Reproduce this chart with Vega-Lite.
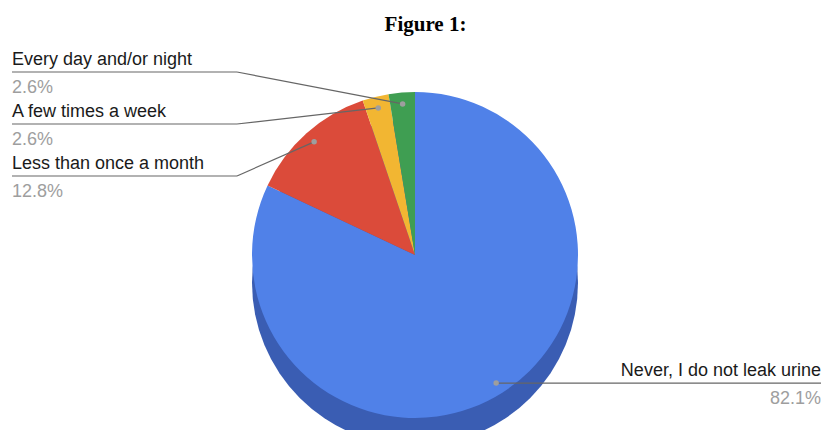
{
  "$schema": "https://vega.github.io/schema/vega-lite/v6.json",
  "width": 823,
  "height": 430,
  "padding": 0,
  "autosize": {"type": "none"},
  "background": "white",
  "config": {"view": {"stroke": null}},
  "title": {
    "text": "Figure 1:",
    "font": "Liberation Serif",
    "fontSize": 21,
    "fontWeight": "bold",
    "color": "#000000",
    "anchor": "middle",
    "dx": 14,
    "offset": -52,
    "baseline": "alphabetic"
  },
  "data": {
    "values": [
      {"answer": "Never, I do not leak urine", "pct": 82.1, "ord": 1},
      {"answer": "Less than once a month", "pct": 12.8, "ord": 2},
      {"answer": "A few times a week", "pct": 2.6, "ord": 3},
      {"answer": "Every day and/or night", "pct": 2.6, "ord": 4}
    ]
  },
  "transform": [
    {"joinaggregate": [{"op": "sum", "field": "pct", "as": "total"}]},
    {"window": [{"op": "sum", "field": "pct", "as": "cum"}], "sort": [{"field": "ord"}], "frame": [null, 0]},
    {"calculate": "2 * PI * (datum.cum - datum.pct / 2) / datum.total", "as": "mid"},
    {"calculate": "0.93 * sin(datum.mid)", "as": "dotx"},
    {"calculate": "0.93 * cos(datum.mid)", "as": "doty"},
    {"calculate": "datum.ord == 1 ? 1 : -1", "as": "side"},
    {"calculate": "datum.side > 0 ? datum.doty : 1.1227 - (4 - datum.ord) * 0.319", "as": "ly"},
    {"calculate": "datum.side > 0 ? datum.dotx : -1.092", "as": "ex"},
    {"calculate": "datum.side > 0 ? 2.4908 : -2.4724", "as": "endx"}
  ],
  "encoding": {
    "x": {"field": "px", "type": "quantitative", "scale": {"domain": [-2.546, 2.5031], "zero": false, "nice": false}, "axis": null},
    "y": {"field": "py", "type": "quantitative", "scale": {"domain": [-1.0736, 1.5644], "zero": false, "nice": false}, "axis": null}
  },
  "layer": [
    {
      "transform": [
        {"filter": "datum.ord == 1"},
        {"calculate": "0", "as": "px"},
        {"calculate": "-0.17", "as": "py"}
      ],
      "mark": {"type": "arc", "outerRadius": 163, "theta": 0, "theta2": 6.2832, "fill": "#3a5db3"}
    },
    {
      "transform": [
        {"calculate": "0", "as": "px"},
        {"calculate": "0", "as": "py"}
      ],
      "mark": {"type": "arc", "outerRadius": 163},
      "encoding": {
        "theta": {"field": "pct", "type": "quantitative", "stack": true, "scale": {"nice": false}},
        "order": {"field": "ord", "type": "quantitative"},
        "color": {
          "field": "answer",
          "type": "nominal",
          "legend": null,
          "scale": {
            "domain": ["Never, I do not leak urine", "Less than once a month", "A few times a week", "Every day and/or night"],
            "range": ["#5081e8", "#db4b3a", "#f2b632", "#3f9e52"]
          }
        }
      }
    },
    {
      "transform": [
        {"filter": "datum.side < 0"},
        {"calculate": "datum.dotx", "as": "px"},
        {"calculate": "datum.doty", "as": "py"},
        {"calculate": "datum.ex", "as": "px2"},
        {"calculate": "datum.ly", "as": "py2"}
      ],
      "mark": {"type": "rule", "color": "#666666", "strokeWidth": 1.2},
      "encoding": {"x2": {"field": "px2"}, "y2": {"field": "py2"}}
    },
    {
      "transform": [
        {"calculate": "datum.ex", "as": "px"},
        {"calculate": "datum.ly", "as": "py"},
        {"calculate": "datum.endx", "as": "px2"}
      ],
      "mark": {"type": "rule", "color": "#666666", "strokeWidth": 1.2},
      "encoding": {"x2": {"field": "px2"}}
    },
    {
      "transform": [
        {"calculate": "datum.dotx", "as": "px"},
        {"calculate": "datum.doty", "as": "py"}
      ],
      "mark": {"type": "point", "filled": true, "size": 30, "color": "#9e9e9e", "opacity": 1}
    },
    {
      "transform": [
        {"calculate": "datum.endx", "as": "px"},
        {"calculate": "datum.ly", "as": "py"}
      ],
      "mark": {"type": "text", "font": "Liberation Sans", "fontSize": 18, "color": "#1a1a1a", "baseline": "alphabetic", "align": {"expr": "datum.side > 0 ? 'right' : 'left'"}, "dy": -7},
      "encoding": {"text": {"field": "answer"}}
    },
    {
      "transform": [
        {"calculate": "datum.endx", "as": "px"},
        {"calculate": "datum.ly", "as": "py"},
        {"calculate": "format(datum.pct, '.1f') + '%'", "as": "pctLabel"}
      ],
      "mark": {"type": "text", "font": "Liberation Sans", "fontSize": 18, "color": "#9e9e9e", "baseline": "alphabetic", "align": {"expr": "datum.side > 0 ? 'right' : 'left'"}, "dy": 21},
      "encoding": {"text": {"field": "pctLabel"}}
    }
  ]
}
